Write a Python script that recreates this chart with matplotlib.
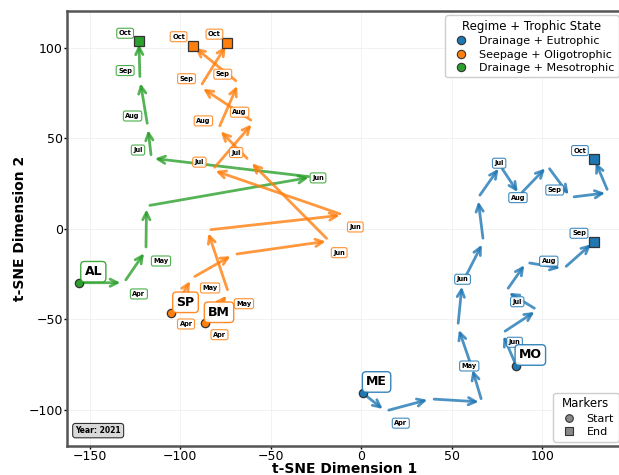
import matplotlib
matplotlib.use("Agg")
import matplotlib.pyplot as plt
from matplotlib.lines import Line2D

BLUE = "#1f77b4"
ORANGE = "#ff7f0e"
GREEN = "#2ca02c"

# ---- trajectories in t-SNE space (one point per sampling date) ----
al_x = [-155.7, -131.1, -118.9, -118.6, -27.2, -115.9, -117.9, -122.2, -122.8]
al_y = [-29.7, -29.7, -11.9, 12.7, 28.7, 39.1, 56.5, 82.3, 103.9]

sp_x = [-104.8, -93.6, -70.6, -17.8, -61.7, -78.9, -67.8, -93.2]
sp_y = [-46.6, -27.2, -14.1, -6.6, 37.6, 55.2, 80.7, 101.3]

bm_x = [-86.3, -73.3, -85.0, -10.0, -82.2, -59.4, -88.9, -73.9]
bm_y = [-52.1, -35.4, -0.6, 7.7, 32.6, 59.1, 78.5, 102.6]

me_x = [0.7, 13.3, 38.3, 66.7, 60.9, 53.3, 55.7, 67.4, 64.4, 76.8, 87.4, 102.8, 115.6, 136.5, 128.7]
me_y = [-90.6, -100.6, -93.9, -95.6, -76.1, -54.0, -30.0, -7.0, 17.1, 34.8, 18.8, 34.8, 17.5, 20.1, 38.5]

mo_x = [85.6, 77.8, 97.2, 80.0, 91.1, 111.7, 128.3]
mo_y = [-75.7, -57.5, -44.8, -34.3, -18.5, -21.9, -7.2]

# ---- month tags and where they sit ----
al_months = ["Apr", "May", "Jun", "Jul", "Aug", "Sep", "Oct"]
al_mx = [-122.8, -110.6, -23.9, -123.3, -126.3, -130.4, -130.4]
al_my = [-35.9, -17.7, 28.2, 43.6, 62.4, 87.5, 108.1]

sp_months = ["Apr", "May", "Jun", "Jul", "Aug", "Sep", "Oct"]
sp_mx = [-96.8, -83.5, -12.2, -69.1, -87.2, -76.5, -100.9]
sp_my = [-52.5, -32.6, -13.1, 42.2, 59.7, 85.5, 106.2]

bm_months = ["Apr", "May", "Jun", "Jul", "Aug", "Sep", "Oct"]
bm_mx = [-78.3, -64.8, -3.3, -89.4, -67.2, -96.5, -81.1]
bm_my = [-58.4, -41.3, 1.1, 36.9, 64.5, 83.0, 107.6]

me_months = ["Apr", "May", "Jun", "Jul", "Aug", "Sep", "Oct"]
me_mx = [21.8, 59.6, 55.9, 76.1, 86.5, 106.8, 120.7]
me_my = [-107.3, -75.7, -27.8, 36.3, 17.3, 21.5, 43.3]

mo_months = ["Jun", "Jul", "Aug", "Sep"]
mo_mx = [84.6, 86.1, 103.5, 120.2]
mo_my = [-62.6, -40.2, -17.8, -2.4]

sites = ["AL", "SP", "BM", "ME", "MO"]
site_colors = [GREEN, ORANGE, ORANGE, BLUE, BLUE]

groups = ["Drainage + Eutrophic", "Seepage + Oligotrophic", "Drainage + Mesotrophic"]
group_colors = [BLUE, ORANGE, GREEN]

x_ticks = [-150, -100, -50, 0, 50, 100]
y_ticks = [-100, -50, 0, 50, 100]

tracks = [
    (al_x, al_y, al_months, al_mx, al_my),
    (sp_x, sp_y, sp_months, sp_mx, sp_my),
    (bm_x, bm_y, bm_months, bm_mx, bm_my),
    (me_x, me_y, me_months, me_mx, me_my),
    (mo_x, mo_y, mo_months, mo_mx, mo_my),
]

fig = plt.figure(figsize=(6.19, 4.75), dpi=100)
ax = fig.add_axes([67 / 619, 29 / 475, 556 / 619, 435 / 475])

for site, color, (xs, ys, months, mx, my) in zip(sites, site_colors, tracks):
    for i in range(len(xs) - 1):
        ax.annotate("", xy=(xs[i + 1], ys[i + 1]), xytext=(xs[i], ys[i]),
                    arrowprops=dict(arrowstyle="->", color=color, lw=2.0, alpha=0.8,
                                    shrinkA=2.5, shrinkB=2.5, mutation_scale=13),
                    zorder=3)
    ax.plot(xs[0], ys[0], marker="o", ms=6, color=color, mec="#333333", mew=0.9,
            ls="none", zorder=5)
    ax.plot(xs[-1], ys[-1], marker="s", ms=6.5, color=color, mec="#333333", mew=0.9,
            ls="none", zorder=5)
    for m, tx, ty in zip(months, mx, my):
        ax.text(tx, ty, m, fontsize=4.8, fontweight="bold", ha="center", va="center",
                zorder=6,
                bbox=dict(boxstyle="round,pad=0.3", fc="white", ec=color, lw=0.8, alpha=0.85))
    ax.annotate(site, xy=(xs[0], ys[0]), xytext=(14, 11), textcoords="offset pixels",
                fontsize=9, fontweight="bold", ha="center", va="center", zorder=7,
                bbox=dict(boxstyle="round,pad=0.3", fc="white", ec=color, lw=1.0, alpha=0.9))

ax.set_xlim(-162.5, 144.5)
ax.set_ylim(-119.9, 120.4)
ax.set_xticks(x_ticks)
ax.set_yticks(y_ticks)
ax.tick_params(labelsize=9, length=2, width=1, pad=1)
ax.grid(True, color="#e6e6e6", lw=0.6, alpha=0.6)
ax.set_axisbelow(True)
for s in ax.spines.values():
    s.set_color("#555555")
    s.set_linewidth(1.8)

ax.set_xlabel("t-SNE Dimension 1", fontsize=10, fontweight="bold", labelpad=-1)
ax.set_ylabel("t-SNE Dimension 2", fontsize=10, fontweight="bold", labelpad=1)

ax.text(0.015, 0.025, "Year: 2021", transform=ax.transAxes, fontsize=5.5,
        fontweight="bold", ha="left", va="bottom",
        bbox=dict(boxstyle="round,pad=0.35", fc="#d9d9d9", ec="#333333", lw=0.8))

group_handles = [Line2D([], [], marker="o", ls="none", ms=6, color=c, mec="#333333", mew=0.8)
                 for c in group_colors]
leg1 = ax.legend(group_handles, groups, title="Regime + Trophic State", loc="upper right",
                 fontsize=8, title_fontsize=8.5, frameon=True, framealpha=0.95,
                 borderaxespad=0.4, handletextpad=0.6, labelspacing=0.3)
ax.add_artist(leg1)

marker_handles = [
    Line2D([], [], marker="o", ls="none", ms=5.5, color="#888888", mec="#333333", mew=0.8),
    Line2D([], [], marker="s", ls="none", ms=5.5, color="#888888", mec="#333333", mew=0.8),
]
ax.legend(marker_handles, ["Start", "End"], title="Markers", loc="lower right",
          fontsize=8, title_fontsize=8.5, frameon=True, framealpha=0.95,
          borderaxespad=0.4, handletextpad=0.6, labelspacing=0.3)

fig.savefig("out.png", dpi=100)
